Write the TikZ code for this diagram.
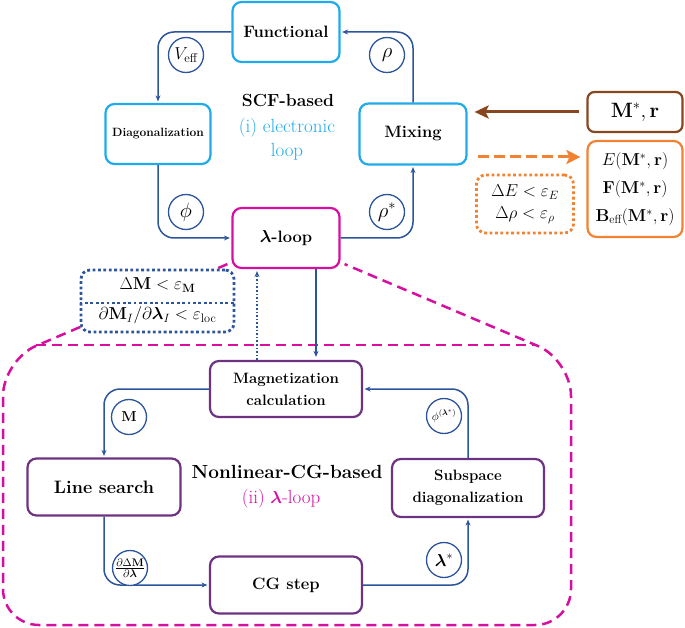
\documentclass[tikz,border=0pt]{standalone}
\usepackage{amsmath,bm}
\usetikzlibrary{arrows.meta,calc}
\definecolor{cyanb}{RGB}{30,170,235}
\definecolor{dblue}{RGB}{45,85,155}
\definecolor{magc}{RGB}{215,15,160}
\definecolor{purp}{RGB}{110,50,130}
\definecolor{brownc}{RGB}{135,70,30}
\definecolor{orng}{RGB}{240,130,50}
\tikzset{
  box/.style={draw, line width=2.2pt, rounded corners=9pt, align=center, inner sep=2pt},
  cbox/.style={box, draw=cyanb},
  pbox/.style={box, draw=purp},
  lab/.style={circle, draw=dblue, line width=1.3pt, fill=white, minimum size=35pt, inner sep=0pt, font=\fontsize{18}{20}\selectfont},
  arr/.style={dblue, line width=1.5pt, -{Stealth[length=6pt,width=5pt]}, rounded corners=16pt, shorten >=1.5pt},
  ttl/.style={font=\fontsize{16.5}{19}\selectfont\bfseries},
  sttl/.style={font=\fontsize{15}{22}\selectfont\bfseries},
  dotpat/.style={line width=2.8pt, dash pattern=on 2.8pt off 2.6pt},
  magdash/.style={magc, line width=2.5pt, dash pattern=on 10pt off 6pt}
}
\begin{document}
\begin{tikzpicture}[x=1pt,y=-1pt]
\useasboundingbox (0,0) rectangle (685,628);

% magenta funnel (drawn first)
\node[box, draw=magc, ttl, minimum width=107pt, minimum height=60pt] (lam) at (286,238) {$\bm{\lambda}$-loop};
\draw[magdash, rounded corners=36pt] ([xshift=-4pt,yshift=5pt]lam.south west) -- (3,360) -- (3,625) -- (571,625) -- (571,360) -- ([xshift=4pt,yshift=5pt]lam.south east);
\draw[magdash] (36,345) -- (537,345);

% top loop
\node[cbox, ttl, minimum width=107pt, minimum height=60pt] (fun) at (286,32) {Functional};
\node[cbox, font=\fontsize{12}{14}\selectfont\bfseries, minimum width=105pt, minimum height=60pt] (diag) at (158,134) {Diagonalization};
\node[cbox, ttl, minimum width=107pt, minimum height=61pt] (mix) at (413,134) {Mixing};

\draw[arr] (fun.west) -| (diag.north);
\draw[arr] (diag.south) |- (lam.west);
\draw[arr] (lam.east) -| (mix.south);
\draw[arr] (mix.north) |- (fun.east);

\node[lab] (veff) at (186,55) {$V_{\text{eff}}$};
\node[lab, font=\fontsize{22}{24}\selectfont] (rho) at (387,55) {$\rho$};
\node[lab, font=\fontsize{22}{24}\selectfont] (phi) at (186,212) {$\phi$};
\node[lab, font=\fontsize{21}{24}\selectfont] (rhos) at (387,212) {$\rho^*$};

\node[font=\fontsize{17.5}{19}\selectfont\bfseries] (scf) at (288,100) {SCF-based};
\node[text=cyanb, font=\fontsize{19}{24}\selectfont, align=center] (elec) at (287,139) {(i) electronic\\loop};

% right side
\node[box, draw=brownc, rounded corners=7pt, minimum width=95pt, minimum height=40pt, font=\fontsize{20}{22}\selectfont] (mr) at (635,112) {$\mathbf{M}^*, \mathbf{r}$};
\node[box, draw=orng, minimum width=95pt, minimum height=96pt, font=\fontsize{17}{28}\selectfont] (eo) at (635,189) {$E(\mathbf{M}^*,\mathbf{r})$\\$\mathbf{F}(\mathbf{M}^*,\mathbf{r})$\\$\mathbf{B}_{\text{eff}}(\mathbf{M}^*,\mathbf{r})$};
\node[box, draw=orng, dotpat, minimum width=97pt, minimum height=58pt, font=\fontsize{17}{22}\selectfont] (cv) at (525,204) {$\Delta E<\varepsilon_E$\\$\Delta\rho<\varepsilon_\rho$};

\draw[brownc, line width=3pt, -{Stealth[length=14pt,width=13pt,inset=3pt]}, shorten <=7pt, shorten >=7pt] (mr.west) -- (mr.west -| mix.east);
\coordinate (oy) at (0,157);
\draw[orng, line width=3pt, dash pattern=on 11pt off 5pt, -{Stealth[length=14pt,width=14pt,inset=3pt]}, shorten <=10pt, shorten >=6pt] (mix.east |- oy) -- (eo.west |- oy);

% criteria box
\node[box, draw=dblue, fill=white, dotpat, minimum width=153pt, minimum height=62pt, font=\fontsize{17.5}{30}\selectfont] (crit) at (157.5,301) {$\Delta\mathbf{M}<\varepsilon_{\mathbf{M}}$\\$\partial\mathbf{M}_I/\partial\bm{\lambda}_I<\varepsilon_{\text{loc}}$};
\coordinate (dv) at (0,303);
\draw[dblue, dotpat] (crit.west |- dv) -- (crit.east |- dv);

% lower loop
\node[pbox, sttl, minimum width=152pt, minimum height=56pt] (mag) at (286,389) {Magnetization\\calculation};
\node[pbox, font=\fontsize{18}{20}\selectfont\bfseries, minimum width=153pt, minimum height=57pt] (ls) at (104,487) {Line search};
\node[pbox, ttl, minimum width=152pt, minimum height=57pt] (cg) at (286,585) {CG step};
\node[pbox, sttl, minimum width=152pt, minimum height=58pt] (sub) at (468,488) {Subspace\\diagonalization};

\draw[dblue, line width=1.6pt, dash pattern=on 1.6pt off 2pt, -{Stealth[length=6pt,width=5pt]}, shorten >=2pt] ([xshift=-29pt]mag.north) -- ([xshift=-29pt]lam.south);
\draw[arr, shorten >=3pt] ([xshift=30pt]lam.south) -- ([xshift=30pt]mag.north);

\draw[arr] (mag.west) -| (ls.north);
\draw[arr] (ls.south) |- (cg.west);
\draw[arr] (cg.east) -| (sub.south);
\draw[arr] (sub.north) |- (mag.east);

\node[lab, font=\fontsize{14}{15}\selectfont] (lm) at (129,417) {$\mathbf{M}$};
\node[lab, font=\fontsize{15}{16}\selectfont] (ldm) at (130,568) {$\frac{\partial\Delta\mathbf{M}}{\partial\bm{\lambda}}$};
\node[lab] (lls) at (444,560) {$\bm{\lambda}^*$};
\node[lab, font=\fontsize{12}{13}\selectfont] (lphi) at (444,416) {$\phi^{(\bm{\lambda}^*)}$};

\node[font=\fontsize{19}{20}\selectfont\bfseries] (nl) at (287,472) {Nonlinear-CG-based};
\node[text=magc, font=\fontsize{19}{20}\selectfont] (ii) at (281,499) {(ii) $\bm{\lambda}$-loop};
\end{tikzpicture}
\end{document}
